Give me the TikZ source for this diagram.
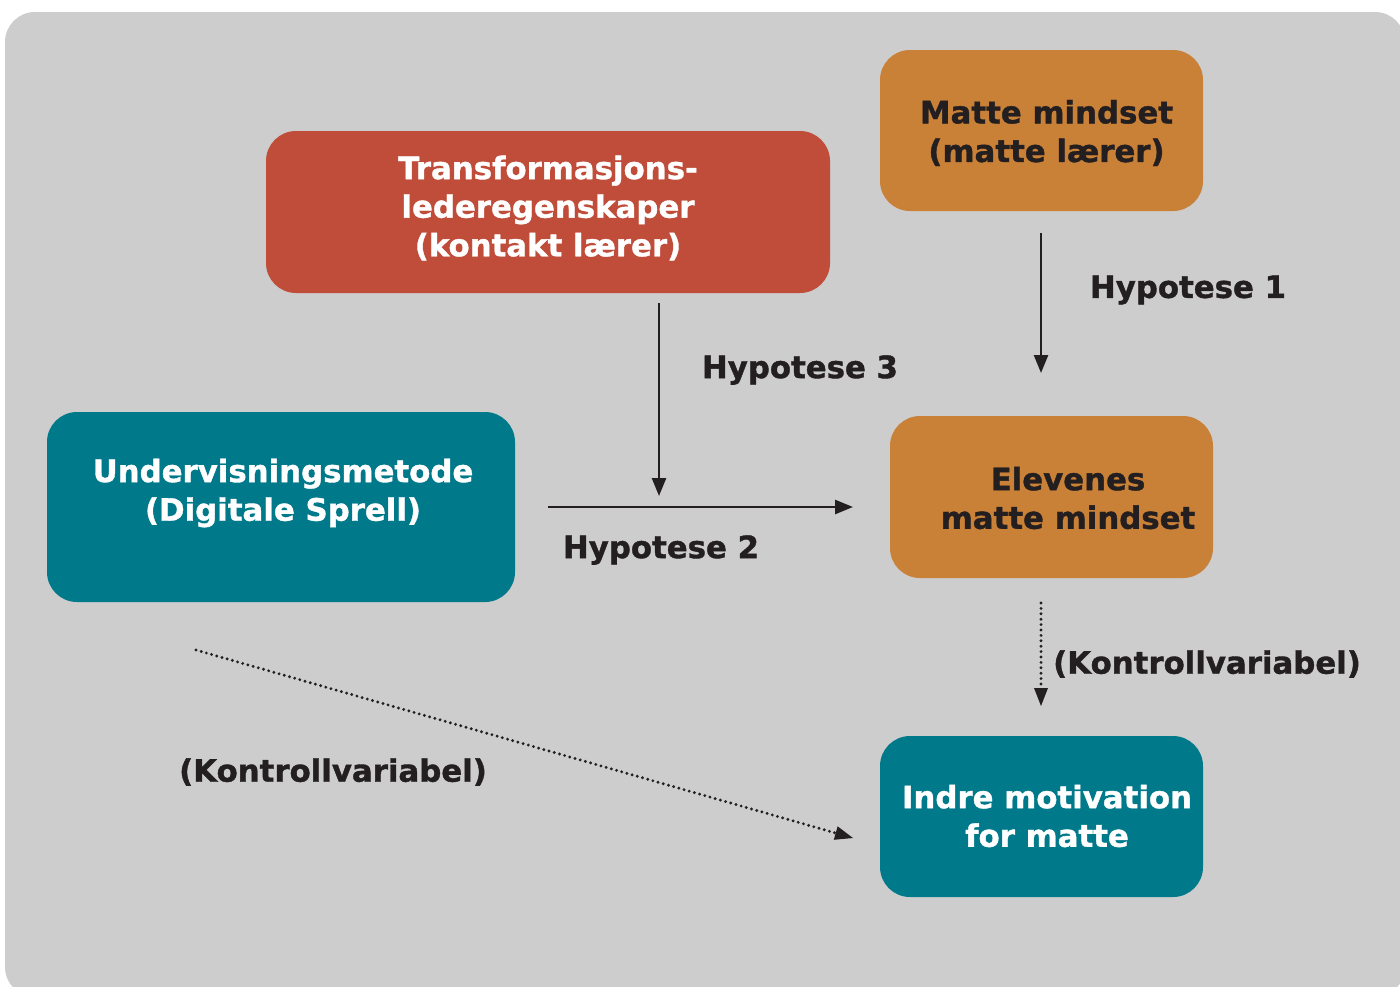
\documentclass[tikz,border=0pt]{standalone}
\usepackage{fontspec}
\setmainfont{DejaVu Sans}[BoldFeatures={FakeBold=1.2}]
\usetikzlibrary{arrows.meta}
\definecolor{bg}{RGB}{205,205,205}
\definecolor{redbox}{RGB}{192,77,58}
\definecolor{orangebox}{RGB}{201,128,55}
\definecolor{tealbox}{RGB}{0,121,138}
\definecolor{ink}{RGB}{35,31,32}
\begin{document}
\begin{tikzpicture}[x=0.5pt,y=-0.5pt,
  box/.style={rounded corners=15pt,inner sep=0pt,draw=none},
  txt/.style={font=\fontsize{15.4pt}{19.3pt}\selectfont\bfseries,align=center,inner sep=0pt},
  arr/.style={draw=ink,line width=1.3pt,-{Triangle[length=9pt,width=7pt]}},
  dotarr/.style={draw=ink,line width=1.6pt,line cap=round,dash pattern=on 0pt off 2.7pt,-{Triangle[length=9pt,width=7pt,line cap=butt,line width=0pt]}}]
\useasboundingbox (0,0) rectangle (1400,986);
\fill[bg,rounded corners=15pt] (5,12) rectangle (1405,997);
% boxes
\node[box,fill=redbox,minimum width=282pt,minimum height=81pt] (trans) at (548,212) {};
\node[box,fill=orangebox,minimum width=161.5pt,minimum height=80.5pt] (mml) at (1041.5,130.5) {};
\node[box,fill=tealbox,minimum width=234pt,minimum height=95pt] (und) at (281,507) {};
\node[box,fill=orangebox,minimum width=161.5pt,minimum height=81pt] (elev) at (1051.5,497) {};
\node[box,fill=tealbox,minimum width=161.5pt,minimum height=80.5pt] (indre) at (1041.5,816.5) {};
% box texts
\node[txt,text=white] (transt) at (548,208) {Transformasjons-\\lederegenskaper\\(kontakt lærer)};
\node[txt,text=ink] (mmlt) at (1046.5,133) {Matte mindset\\(matte lærer)};
\node[txt,text=white] (undt) at (283,493) {Undervisningsmetode\\(Digitale Sprell)};
\node[txt,text=ink] (elevt) at (1068,498) {Elevenes\\matte mindset};
\node[txt,text=white] (indret) at (1047,816) {Indre motivation\\for matte};
% labels
\node[txt,text=ink] (h1) at (1188,290) {Hypotese 1};
\node[txt,text=ink] (h3) at (800,370) {Hypotese 3};
\node[txt,text=ink] (h2) at (661,550) {Hypotese 2};
\node[txt,text=ink] (k1) at (1207,664) {(Kontrollvariabel)};
\node[txt,text=ink] (k2) at (333,772) {(Kontrollvariabel)};
% connector end points
\coordinate (a1s) at (1041,233);
\coordinate (a1e) at (1041,373);
\coordinate (a3s) at (659,303);
\coordinate (a3e) at (659,496);
\coordinate (a2s) at (548,507);
\coordinate (a2e) at (853,507);
\coordinate (k1s) at (1041,603);
\coordinate (k1e) at (1041,706);
\coordinate (k2s) at (196,650);
\coordinate (k2e) at (853,838);
% connectors
\draw[arr] (a1s) -- (a1e);
\draw[arr] (a3s) -- (a3e);
\draw[arr] (a2s) -- (a2e);
\draw[dotarr] (k1s) -- (k1e);
\draw[dotarr] (k2s) -- (k2e);
\end{tikzpicture}
\end{document}
